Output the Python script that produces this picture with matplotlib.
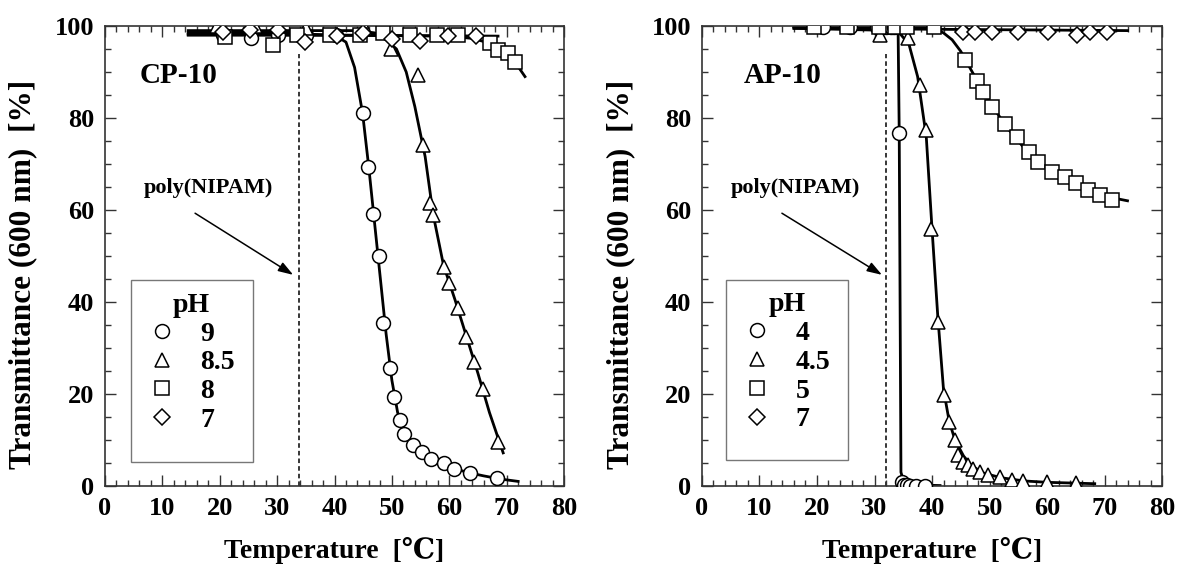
import matplotlib
matplotlib.use("Agg")
import matplotlib.pyplot as plt
from matplotlib.lines import Line2D
from matplotlib.patches import Rectangle
from matplotlib.ticker import MultipleLocator

plt.rcParams["font.family"] = ["Liberation Serif", "DejaVu Serif", "Noto Sans CJK JP"]
plt.rcParams["font.weight"] = "bold"

# ── CP-10 data (markers) ─────────────────────────────────────────
cp_ph9_x = [20.6, 25.4, 30.2, 35.0, 40.2, 44.9, 45.9, 46.7, 47.7, 48.5, 49.6, 50.3,
            51.4, 52.1, 53.7, 55.2, 56.9, 59.0, 60.8, 63.6, 68.3]
cp_ph9_y = [98.0, 97.3, 98.0, 98.0, 98.0, 81.0, 69.4, 59.1, 50.0, 35.5, 25.7, 19.3,
            14.3, 11.4, 8.9, 7.3, 5.9, 4.9, 3.8, 2.8, 1.7]
cp_ph85_x = [19.5, 26.1, 30.2, 35.1, 45.3, 49.8, 54.6, 55.5, 56.6, 57.2, 59.0, 60.0,
             61.6, 63.0, 64.3, 65.8, 68.5]
cp_ph85_y = [100.0, 100.0, 100.0, 99.6, 99.6, 95.1, 89.3, 74.1, 61.5, 58.9, 47.7, 44.1,
             38.6, 32.5, 26.9, 21.0, 9.5]
cp_ph8_x = [20.9, 29.3, 33.4, 39.2, 44.4, 48.5, 53.2, 57.8, 61.6, 67.1, 68.5, 70.3, 71.5]
cp_ph8_y = [97.7, 95.9, 98.0, 98.0, 98.0, 98.5, 98.0, 98.0, 98.0, 96.2, 94.8, 94.1, 92.2]
cp_ph7_x = [20.6, 25.3, 30.2, 34.9, 40.4, 45.0, 50.0, 54.9, 59.8, 64.7]
cp_ph7_y = [98.8, 99.1, 99.1, 96.6, 97.8, 98.5, 97.1, 96.7, 97.8, 97.8]

# CP-10 fitted curves
cp_fit9_x = [14.5, 30, 40, 42, 43.5, 44.9, 46, 47, 48, 49, 50, 51, 52, 54, 56, 58, 60, 63, 66, 69, 72]
cp_fit9_y = [98.5, 98.5, 98, 96.5, 91, 81, 69, 57, 45, 33, 23, 16, 12, 8.8, 6.8, 5.4, 4.2, 3.0, 2.2, 1.5, 1.0]
cp_fit85_x = [14.5, 44, 47, 49, 50.8, 52.5, 54, 55.8, 57.2, 59, 61, 63, 65, 67, 69.4]
cp_fit85_y = [99, 99, 98.5, 97, 95, 90, 82.5, 71.6, 59, 48, 40.5, 32.5, 24.5, 16, 7.2]
cp_fit8_x = [14.5, 40, 60, 64, 67, 69, 71, 73.2]
cp_fit8_y = [98, 98, 97.8, 97.3, 96.3, 95, 93, 89]
cp_fit7_x = [14.5, 68.5]
cp_fit7_y = [98.2, 97.8]

# ── AP-10 data (markers) ─────────────────────────────────────────
ap_ph4_x = [21.0, 25.7, 30.4, 31.2, 32.0, 32.8, 33.4, 34.1, 34.3, 34.7, 35.1, 35.6, 36.2, 37.3, 38.8]
ap_ph4_y = [99.8, 99.8, 99.8, 99.8, 99.8, 99.8, 99.8, 99.8, 76.7, 0.9, 0.3, 0.2, 0.1, 0.1, 0.1]
ap_ph45_x = [31.0, 35.9, 37.9, 39.0, 39.9, 41.1, 42.1, 43.0, 44.0, 44.6, 45.4, 46.3, 47.2,
             48.3, 49.8, 51.8, 53.9, 55.9, 60.0, 65.0]
ap_ph45_y = [98.0, 97.3, 87.2, 77.4, 55.8, 35.7, 19.8, 14.0, 10.0, 6.7, 5.3, 4.6, 3.8,
             3.1, 2.4, 2.0, 1.4, 1.1, 0.9, 0.7]
ap_ph5_x = [19.4, 25.2, 30.7, 33.6, 35.6, 40.4, 45.7, 47.8, 48.8, 50.4, 52.7, 54.7, 56.9,
            58.5, 60.8, 63.1, 65.0, 67.1, 69.2, 71.3]
ap_ph5_y = [99.8, 99.8, 99.8, 99.8, 99.8, 99.8, 92.6, 88.0, 85.7, 82.5, 78.8, 75.9, 72.7,
            70.5, 68.3, 67.2, 65.8, 64.3, 63.3, 62.2]
ap_ph7_x = [45.4, 47.5, 50.4, 55.0, 60.2, 65.2, 67.5, 70.4]
ap_ph7_y = [98.8, 98.8, 98.8, 98.8, 98.8, 98.0, 98.8, 98.8]

# AP-10 fitted curves
ap_fit4_x = [16, 34.1, 34.3, 34.6, 35.2, 41.4]
ap_fit4_y = [99.8, 99.5, 76.7, 3, 0.3, 0.1]
ap_fit45_x = [16, 34, 36, 37.5, 39, 40, 41, 42, 43, 44, 45.5, 47, 49, 52, 56, 60, 68.3]
ap_fit45_y = [99.5, 99, 96, 89, 76, 56, 37, 21, 14, 10, 6.5, 4.3, 2.8, 1.8, 1.1, 0.8, 0.5]
ap_fit5_x = [16, 40, 42, 43.5, 45, 47, 50, 53, 56, 60, 65, 70, 74]
ap_fit5_y = [99.8, 99.7, 98.5, 97, 94.5, 90, 83.5, 78, 73.5, 69, 65.5, 63, 62]
ap_fit7_x = [16, 74]
ap_fit7_y = [99.5, 99.0]

cp_labels = ["9", "8.5", "8", "7"]
ap_labels = ["4", "4.5", "5", "7"]
markers = ["o", "^", "s", "D"]

nipam_lcst = [33.8, 32.0]   # dashed line positions
nipam_top = 94


def style_axes(ax):
    ax.set_xlim(0, 80)
    ax.set_ylim(0, 100)
    ax.xaxis.set_major_locator(MultipleLocator(10))
    ax.xaxis.set_minor_locator(MultipleLocator(2))
    ax.yaxis.set_major_locator(MultipleLocator(20))
    ax.yaxis.set_minor_locator(MultipleLocator(5))
    ax.tick_params(which="both", direction="in", top=True, right=True,
                   width=1.0, color="#333333")
    ax.tick_params(which="major", length=8, labelsize=19, pad=8)
    ax.tick_params(which="minor", length=4.5)
    for s in ax.spines.values():
        s.set_linewidth(1.2)
        s.set_color("#333333")
    ax.set_xlabel("Temperature  [℃]", fontsize=20, fontweight="bold", labelpad=12)
    ax.set_ylabel("Transmittance (600 nm)  [%]", fontsize=22.5, fontweight="bold")


def draw_panel(ax, fits, pts, labels, title, lcst, tx, arrow_tail, arrow_tip, box):
    for fx, fy in fits:
        ax.plot(fx, fy, color="black", lw=2.0, zorder=2)
    for (px, py), m in zip(pts, markers):
        ms = 10 if m != "D" else 8.5
        ax.plot(px, py, ls="none", marker=m, ms=ms, mfc="white", mec="black",
                mew=1.1, zorder=3)
    ax.vlines(lcst, 0, nipam_top, colors="black", linestyles=(0, (3, 2)), lw=1.1, zorder=1)
    ax.text(6 if title == "CP-10" else 7.2, 89.3, title, fontsize=21, fontweight="bold",
            ha="left", va="center")
    ax.text(tx, 64.8, "poly(NIPAM)", fontsize=16, fontweight="bold", ha="center", va="center")
    ax.annotate("", xy=arrow_tip, xytext=arrow_tail,
                arrowprops=dict(arrowstyle="-|>,head_length=0.9,head_width=0.3",
                                color="black", lw=1.1, shrinkA=0, shrinkB=0))
    ax.add_patch(Rectangle((box[0], box[1]), box[2], box[3], transform=ax.transAxes,
                           fill=True, facecolor="white", edgecolor="#777777", lw=1.0, zorder=4))
    handles = [Line2D([], [], ls="none", marker=m, ms=(10 if m != "D" else 8.5),
                      mfc="white", mec="black", mew=1.1) for m in markers]
    leg = ax.legend(handles, labels, title="pH", loc="upper left",
                    bbox_to_anchor=(box[0] + 0.025, box[1] + box[3] - 0.015),
                    frameon=False, prop={"size": 20, "weight": "bold"},
                    title_fontproperties={"size": 20, "weight": "bold"},
                    handlelength=1.0, handletextpad=0.9, labelspacing=0.12,
                    borderpad=0.2, borderaxespad=0)
    leg.set_zorder(5)


fig = plt.figure(figsize=(11.8, 5.67), dpi=100)
ax1 = fig.add_axes([105 / 1180, 81 / 567, 459 / 1180, 460 / 567])
ax2 = fig.add_axes([702 / 1180, 81 / 567, 460 / 1180, 460 / 567])

style_axes(ax1)
style_axes(ax2)

draw_panel(ax1,
           [(cp_fit9_x, cp_fit9_y), (cp_fit85_x, cp_fit85_y), (cp_fit8_x, cp_fit8_y), (cp_fit7_x, cp_fit7_y)],
           [(cp_ph9_x, cp_ph9_y), (cp_ph85_x, cp_ph85_y), (cp_ph8_x, cp_ph8_y), (cp_ph7_x, cp_ph7_y)],
           cp_labels, "CP-10", nipam_lcst[0], 18.1, (15.7, 59.3), (32.8, 45.9),
           (0.056, 0.052, 0.267, 0.395))
draw_panel(ax2,
           [(ap_fit4_x, ap_fit4_y), (ap_fit45_x, ap_fit45_y), (ap_fit5_x, ap_fit5_y), (ap_fit7_x, ap_fit7_y)],
           [(ap_ph4_x, ap_ph4_y), (ap_ph45_x, ap_ph45_y), (ap_ph5_x, ap_ph5_y), (ap_ph7_x, ap_ph7_y)],
           ap_labels, "AP-10", nipam_lcst[1], 16.2, (13.9, 59.3), (31.3, 45.9),
           (0.052, 0.057, 0.266, 0.391))

ax1.yaxis.set_label_coords(-0.148, 0.46)
ax2.yaxis.set_label_coords(-0.146, 0.46)

fig.savefig("out.png", dpi=100)
